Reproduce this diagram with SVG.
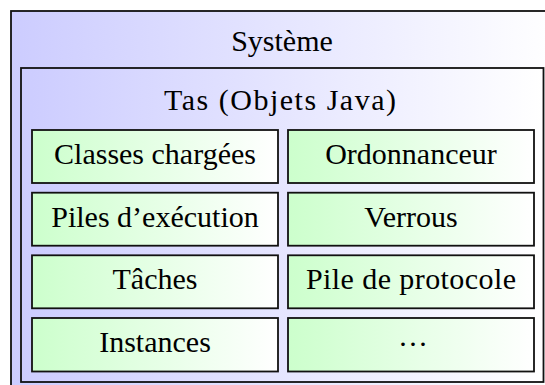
<svg xmlns="http://www.w3.org/2000/svg" width="545" height="385" viewBox="0 0 545 385">
  <defs>
    <linearGradient id="blue" x1="0" y1="0" x2="1" y2="0">
      <stop offset="0" stop-color="#ccccff"/>
      <stop offset="1" stop-color="#ffffff"/>
    </linearGradient>
    <linearGradient id="green" x1="0" y1="0" x2="1" y2="0">
      <stop offset="0" stop-color="#ccffcc"/>
      <stop offset="1" stop-color="#ffffff"/>
    </linearGradient>
  </defs>
  <style>
    .lbl { font-family: "Liberation Serif", "Times New Roman", serif; font-size: 30px; fill: #000; text-anchor: middle; }
    .container { fill: url(#blue); stroke: #111; stroke-width: 1.8; }
    .cell { fill: url(#green); stroke: #111; stroke-width: 1.8; }
  </style>
  <rect width="545" height="385" fill="#ffffff"/>
  <g id="systeme">
    <rect class="container" x="11" y="11" width="546" height="386"/>
    <text class="lbl" x="282" y="51">Système</text>
  </g>
  <g id="tas">
    <rect class="container" x="21" y="68" width="522.5" height="314"/>
    <text class="lbl" x="280" y="110" textLength="232" lengthAdjust="spacing">Tas (Objets Java)</text>
  </g>
  <g id="classes">
    <rect class="cell" x="32" y="130" width="246" height="53"/>
    <text class="lbl" x="155" y="164">Classes chargées</text>
  </g>
  <g id="ordonnanceur">
    <rect class="cell" x="288" y="130" width="246" height="53"/>
    <text class="lbl" x="411" y="164">Ordonnanceur</text>
  </g>
  <g id="piles">
    <rect class="cell" x="32" y="192.7" width="246" height="53"/>
    <text class="lbl" x="155" y="226.7">Piles d’exécution</text>
  </g>
  <g id="verrous">
    <rect class="cell" x="288" y="192.7" width="246" height="53"/>
    <text class="lbl" x="411" y="226.7">Verrous</text>
  </g>
  <g id="taches">
    <rect class="cell" x="32" y="255.3" width="246" height="53"/>
    <text class="lbl" x="155" y="289.3">Tâches</text>
  </g>
  <g id="pile-protocole">
    <rect class="cell" x="288" y="255.3" width="246" height="53"/>
    <text class="lbl" x="411" y="289.3" textLength="210" lengthAdjust="spacing">Pile de protocole</text>
  </g>
  <g id="instances">
    <rect class="cell" x="32" y="318" width="246" height="53.5"/>
    <text class="lbl" x="155" y="352">Instances</text>
  </g>
  <g id="autres">
    <rect class="cell" x="288" y="318" width="246" height="53.5"/>
    <text class="lbl" x="413" y="354" font-size="24">···</text>
  </g>
  <g id="connectors"/>
</svg>
